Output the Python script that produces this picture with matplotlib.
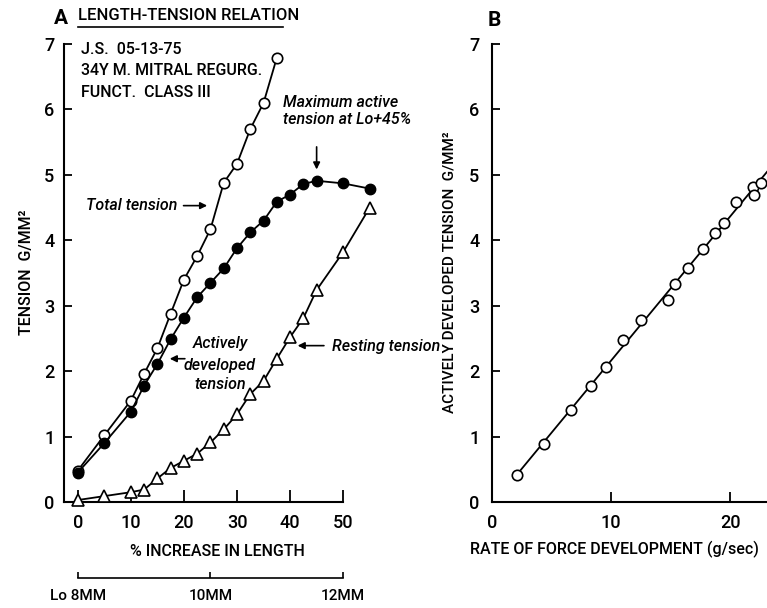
import numpy as np
import matplotlib
matplotlib.use("Agg")
import matplotlib.pyplot as plt

plt.rcParams['font.family'] = ['Roboto', 'DejaVu Sans']
plt.rcParams['font.weight'] = 'medium'

# Panel A: length-tension relation (% increase in length)
pct_total = [0, 5, 10, 12.5, 15, 17.5, 20, 22.5, 25, 27.5, 30, 32.5, 35, 37.5]
total_tension = [0.48, 1.02, 1.55, 1.96, 2.35, 2.88, 3.40, 3.76, 4.17, 4.88, 5.17, 5.70, 6.10, 6.79]

pct_active = [0, 5, 10, 12.5, 15, 17.5, 20, 22.5, 25, 27.5, 30, 32.5, 35, 37.5, 40, 42.5, 45, 50, 55]
active_tension = [0.45, 0.90, 1.38, 1.78, 2.11, 2.49, 2.82, 3.13, 3.35, 3.57, 3.88, 4.12, 4.30, 4.59,
                  4.70, 4.86, 4.91, 4.87, 4.79]

pct_rest = [0, 5, 10, 12.5, 15, 17.5, 20, 22.5, 25, 27.5, 30, 32.5, 35, 37.5, 40, 42.5, 45, 50, 55]
resting_tension = [0.03, 0.09, 0.15, 0.19, 0.36, 0.52, 0.63, 0.74, 0.91, 1.11, 1.34, 1.65, 1.85, 2.19,
                   2.52, 2.81, 3.24, 3.82, 4.50]

pct_ticks = [0, 10, 20, 30, 40, 50]
tension_ticks = [0, 1, 2, 3, 4, 5, 6, 7]
mm_ticks = [8, 10, 12]
mm_labels = ['Lo 8MM', '10MM', '12MM']

# Panel B: actively developed tension vs rate of force development
rate = [2.1, 4.4, 6.6, 8.3, 9.6, 11.0, 12.5, 14.8, 15.4, 16.5, 17.7, 18.7, 19.5, 20.5, 21.9, 22.0, 22.6]
developed = [0.41, 0.89, 1.41, 1.78, 2.06, 2.48, 2.78, 3.09, 3.33, 3.58, 3.86, 4.11, 4.27, 4.59,
             4.82, 4.70, 4.87]
rate_ticks = [0, 10, 20]

W, H = 767, 608


def box(left, top, right, bottom):
    return [left / W, 1 - bottom / H, (right - left) / W, (bottom - top) / H]


def fpos(x, y):
    return x / W, 1 - y / H


fig = plt.figure(figsize=(W / 100, H / 100), dpi=100)
lw = 1.3
fs = 11.5

# ---- panel A ----
ax = fig.add_axes(box(64, 24.4, 375, 502))
ax.set_xlim(-2.6, 56)
ax.set_ylim(0, 7.3)
ax.plot(pct_total, total_tension, color='black', lw=lw, marker='o', ms=7.5,
        mfc='white', mec='black', mew=1.2, clip_on=False, zorder=3)
ax.plot(pct_active, active_tension, color='black', lw=lw, marker='o', ms=7.5,
        mfc='black', mec='black', clip_on=False, zorder=3)
ax.plot(pct_rest, resting_tension, color='black', lw=lw, marker='^', ms=8,
        mfc='white', mec='black', mew=1.2, clip_on=False, zorder=3)

for side in ['top', 'right']:
    ax.spines[side].set_visible(False)
for side in ['left', 'bottom']:
    ax.spines[side].set_linewidth(1.5)
ax.spines['left'].set_bounds(0, 7)
ax.spines['bottom'].set_bounds(-2.6, 50)
ax.set_xticks(pct_ticks)
ax.set_yticks(tension_ticks)
ax.tick_params(axis='x', direction='in', length=8.5, width=1.3, pad=9, labelsize=13)
ax.tick_params(axis='y', direction='in', length=5.5, width=1.3, pad=7, labelsize=13)

# length scale in mm under the % axis
sec = ax.secondary_xaxis(-0.159, functions=(lambda p: 8 * (1 + p / 100), lambda mm: (mm / 8 - 1) * 100))
sec.set_xticks(mm_ticks)
sec.set_xticklabels(mm_labels)
sec.tick_params(direction='in', length=4.5, width=1.2, pad=8, labelsize=11)
sec.spines['bottom'].set_bounds(8, 12)
sec.spines['bottom'].set_linewidth(1.2)

fig.text(*fpos(217, 552), '% INCREASE IN LENGTH', ha='center', va='center', fontsize=fs)
fig.text(*fpos(27, 272), 'TENSION  G/MM²', ha='center', va='center', rotation=90, fontsize=fs)
fig.text(*fpos(61, 19), 'A', ha='center', va='center', fontsize=15, fontweight='bold')
fig.text(*fpos(78, 16), 'LENGTH-TENSION RELATION', ha='left', va='center', fontsize=12)
fig.add_artist(plt.Line2D([78 / W, 283 / W], [1 - 27 / H, 1 - 27 / H], color='black', lw=1.2))

ax.text(0.55, 6.91, 'J.S.  05-13-75', ha='left', va='center', fontsize=fs)
ax.text(0.55, 6.59, '34Y M. MITRAL REGURG.', ha='left', va='center', fontsize=fs)
ax.text(0.55, 6.26, 'FUNCT.  CLASS III', ha='left', va='center', fontsize=fs)

ital = dict(fontstyle='italic', fontsize=fs, va='center')
ax.text(38.6, 6.11, 'Maximum active', ha='left', **ital)
ax.text(38.6, 5.84, 'tension at Lo+45%', ha='left', **ital)
ax.annotate('', xy=(45, 5.04), xytext=(45, 5.47),
            arrowprops=dict(arrowstyle='-|>', color='black', lw=1.2, mutation_scale=10))
ax.text(1.6, 4.53, 'Total tension', ha='left', **ital)
ax.annotate('', xy=(24.9, 4.53), xytext=(19.4, 4.53),
            arrowprops=dict(arrowstyle='-|>', color='black', lw=1.2, mutation_scale=10))
ax.text(26.8, 2.43, 'Actively', ha='center', **ital)
ax.text(26.8, 2.09, 'developed', ha='center', **ital)
ax.text(26.8, 1.79, 'tension', ha='center', **ital)
ax.annotate('', xy=(16.8, 2.19), xytext=(20.7, 2.19),
            arrowprops=dict(arrowstyle='-|>', color='black', lw=1.2, mutation_scale=10))
ax.text(47.9, 2.37, 'Resting tension', ha='left', **ital)
ax.annotate('', xy=(40.9, 2.39), xytext=(46.9, 2.39),
            arrowprops=dict(arrowstyle='-|>', color='black', lw=1.2, mutation_scale=10),
            annotation_clip=False)

# ---- panel B ----
bx = fig.add_axes(box(492, 24.4, 492 + 26 * 11.9, 502))
bx.set_xlim(0, 26)
bx.set_ylim(0, 7.3)
slope, icpt = np.polyfit(rate, developed, 1)
xs = np.array([min(rate), 26])
bx.plot(xs, slope * xs + icpt, color='black', lw=lw)
bx.plot(rate, developed, ls='none', marker='o', ms=7.5, mfc='white', mec='black', mew=1.2,
        clip_on=False, zorder=3)
for side in ['top', 'right']:
    bx.spines[side].set_visible(False)
for side in ['left', 'bottom']:
    bx.spines[side].set_linewidth(1.5)
bx.spines['left'].set_bounds(0, 7)
bx.set_xticks(rate_ticks)
bx.set_yticks(tension_ticks)
bx.tick_params(axis='x', direction='in', length=7, width=1.3, pad=9, labelsize=13)
bx.tick_params(axis='y', direction='in', length=5.5, width=1.3, pad=9, labelsize=13)

fig.text(*fpos(614, 549), 'RATE OF FORCE DEVELOPMENT (g/sec)', ha='center', va='center', fontsize=fs)
fig.text(*fpos(449, 272), 'ACTIVELY DEVELOPED TENSION  G/MM²', ha='center', va='center',
         rotation=90, fontsize=11)
fig.text(*fpos(494, 21), 'B', ha='center', va='center', fontsize=15, fontweight='bold')

fig.savefig('out.png', dpi=100)
